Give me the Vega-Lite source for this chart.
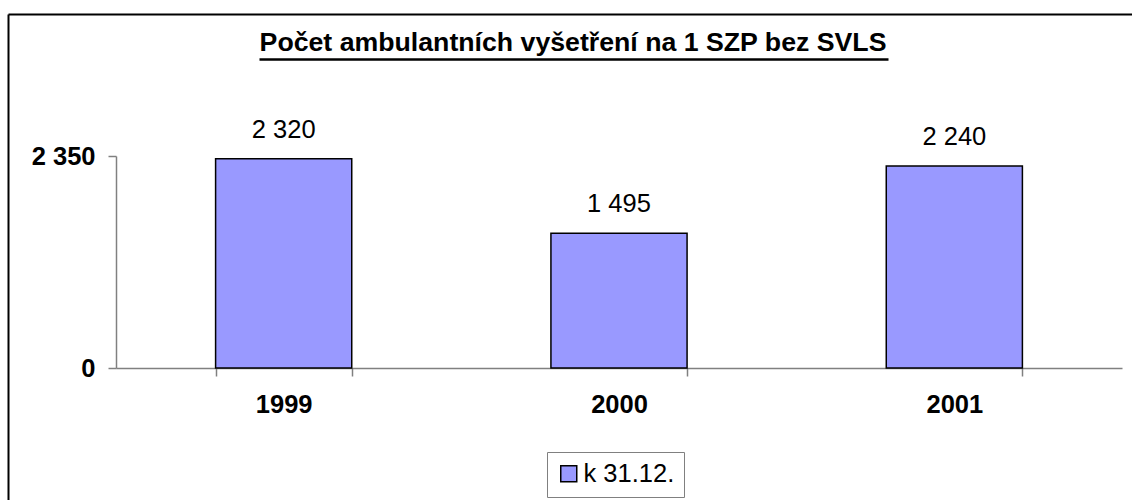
{
  "$schema": "https://vega.github.io/schema/vega-lite/v6.json",
  "width": 1124,
  "height": 486,
  "autosize": {"type": "none"},
  "padding": {"left": 8, "top": 14, "right": 0, "bottom": 0},
  "background": "white",
  "config": {
    "view": {"stroke": null},
    "font": "Liberation Sans",
    "locale": {"number": {"decimal": ",", "thousands": " ", "grouping": [3], "currency": ["", ""]}}
  },
  "title": {
    "text": "Počet ambulantních vyšetření na 1 SZP bez SVLS",
    "font": "Liberation Sans",
    "fontSize": 26.7,
    "fontWeight": "bold",
    "color": "black",
    "anchor": "middle",
    "frame": "group",
    "baseline": "alphabetic",
    "offset": -64,
    "dx": 3
  },
  "datasets": {
    "bars": [
      {"year": "1999", "value": 2320, "series": "k 31.12."},
      {"year": "2000", "value": 1495, "series": "k 31.12."},
      {"year": "2001", "value": 2240, "series": "k 31.12."}
    ],
    "frame": [{"v": 0}]
  },
  "layer": [
    {
      "data": {"name": "bars"},
      "encoding": {
        "x": {
          "field": "year",
          "type": "nominal",
          "scale": {"range": [108, 1114], "paddingInner": 0.594, "paddingOuter": 0.297},
          "axis": {
            "orient": "bottom",
            "offset": -132,
            "title": null,
            "labelAngle": 0,
            "labelFont": "Liberation Sans",
            "labelFontSize": 25.5,
            "labelFontWeight": "bold",
            "labelColor": "black",
            "labelPadding": 16,
            "tickBand": "extent",
            "tickSize": 8,
            "tickWidth": 1.5,
            "tickColor": "#808080",
            "domainColor": "#808080",
            "domainWidth": 1.5,
            "grid": false
          }
        },
        "y": {
          "field": "value",
          "type": "quantitative",
          "scale": {"domain": [0, 2350], "range": [354, 142], "nice": false, "zero": true},
          "axis": {
            "orient": "left",
            "offset": -108,
            "values": [0, 2350],
            "format": ",d",
            "title": null,
            "grid": false,
            "labelFont": "Liberation Sans",
            "labelFontSize": 25.5,
            "labelFontWeight": "bold",
            "labelColor": "black",
            "labelPadding": 13,
            "tickSize": 8,
            "tickWidth": 1.5,
            "tickColor": "#808080",
            "domainColor": "#808080",
            "domainWidth": 1.5
          }
        }
      },
      "layer": [
        {
          "mark": {"type": "bar", "stroke": "black", "strokeWidth": 1.5},
          "encoding": {
            "color": {
              "field": "series",
              "type": "nominal",
              "scale": {"range": ["#9999FF"]},
              "legend": {
                "title": null,
                "orient": "none",
                "legendX": 539,
                "legendY": 438,
                "direction": "horizontal",
                "strokeColor": "#808080",
                "fillColor": "white",
                "padding": 9,
                "labelFont": "Liberation Sans",
                "labelFontSize": 25.5,
                "labelColor": "black",
                "labelOffset": 2,
                "symbolType": "square",
                "symbolSize": 256,
                "symbolStrokeColor": "black",
                "symbolStrokeWidth": 1.5,
                "symbolOpacity": 1
              }
            }
          }
        },
        {
          "mark": {"type": "text", "baseline": "alphabetic", "dy": -21, "font": "Liberation Sans", "fontSize": 25.5, "color": "black"},
          "encoding": {
            "text": {"field": "value", "type": "quantitative", "format": ",d"}
          }
        }
      ]
    },
    {
      "data": {"name": "frame"},
      "mark": {"type": "point", "opacity": 0},
      "encoding": {
        "x": {
          "field": "v",
          "type": "quantitative",
          "scale": {"domain": [0, 1]},
          "axis": {"orient": "top", "domainColor": "black", "domainWidth": 2, "ticks": false, "labels": false, "grid": false, "title": null}
        },
        "y": {
          "field": "v",
          "type": "quantitative",
          "scale": {"domain": [0, 1]},
          "axis": {"orient": "left", "domainColor": "black", "domainWidth": 2, "ticks": false, "labels": false, "grid": false, "title": null}
        }
      }
    },
    {
      "data": {"name": "frame"},
      "mark": {"type": "point", "opacity": 0},
      "encoding": {
        "x": {
          "field": "v",
          "type": "quantitative",
          "scale": {"domain": [0, 1], "range": [251, 880]},
          "axis": {"orient": "top", "offset": -45, "domainColor": "black", "domainWidth": 2.5, "ticks": false, "labels": false, "grid": false, "title": null}
        }
      }
    }
  ],
  "resolve": {
    "scale": {"x": "independent", "y": "independent", "color": "independent"},
    "axis": {"x": "independent", "y": "independent"}
  }
}
